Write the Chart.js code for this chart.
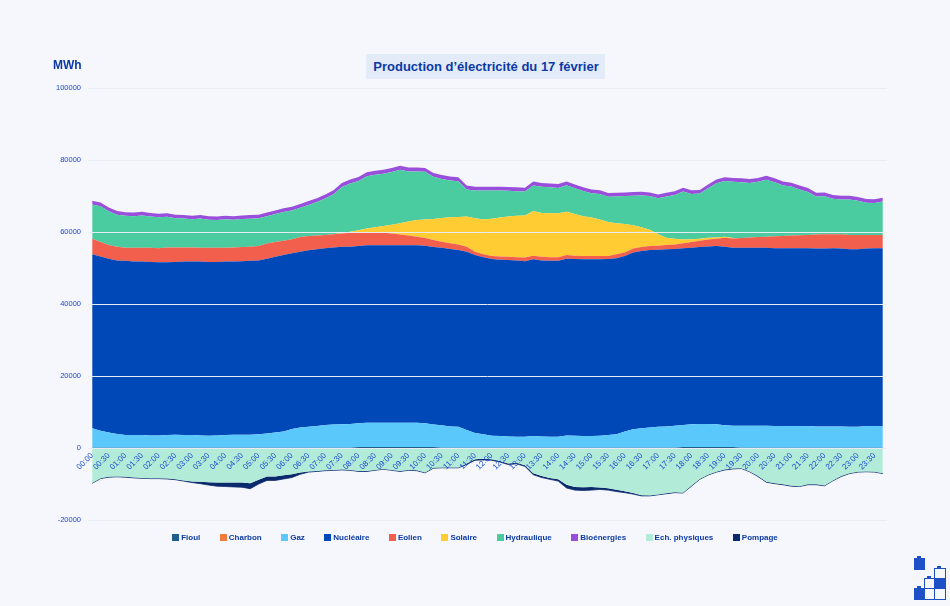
<!DOCTYPE html>
<html lang="fr">
<head>
<meta charset="utf-8">
<title>Production d'électricité du 17 février</title>
<script src="https://cdn.jsdelivr.net/npm/chart.js@4.4.1/dist/chart.umd.min.js"></script>
<style>
  html, body { margin: 0; padding: 0; background: #f5f7fc; }
  #wrap { position: relative; width: 950px; height: 606px; overflow: hidden; font-family: 'Liberation Sans', Arial, sans-serif; }
  #graphique { position: absolute; left: 0; top: 0; }
  .unite { position: absolute; left: 53px; top: 58px; font-size: 12px; font-weight: bold; color: #0b3aa6; }
  .titre { position: absolute; left: 486px; top: 54px; transform: translateX(-50%); background: #e3ebf9; color: #0b3aa6;
           font-size: 13px; font-weight: bold; padding: 5px 7px; white-space: nowrap; }
  .legende { position: absolute; left: 0; top: 533px; width: 950px; display: flex; justify-content: center; gap: 19.5px;
             font-size: 8px; font-weight: bold; color: #0b3aa6; }
  .legende span { display: flex; align-items: center; }
  .legende i { display: inline-block; width: 7px; height: 7px; margin-right: 2px; }
  .pile { position: absolute; width: 10px; height: 10px; border: 1px solid #1f4fc6; background: #f5f7fc; }
  .pile.pleine { background: #1f4fc6; }
  .pile.nez::before { content: ''; position: absolute; left: 2px; top: -3px; width: 4px; height: 2px; background: #1f4fc6; }
</style>
</head>
<body>
<div id="wrap">
  <canvas id="graphique" width="950" height="606"></canvas>
  <div class="unite">MWh</div>
  <div class="titre">Production d’électricité du 17 février</div>
  <div class="legende" id="legende"></div>
  <div class="pile pleine nez" style="left:914px;top:558px;width:9px;height:10px"></div>
  <div class="pile pleine nez" style="left:914px;top:588px"></div>
  <div class="pile nez" style="left:924px;top:578px"></div>
  <div class="pile" style="left:924px;top:588px"></div>
  <div class="pile nez" style="left:934px;top:568px"></div>
  <div class="pile pleine" style="left:934px;top:578px"></div>
  <div class="pile" style="left:934px;top:588px"></div>
</div>
<script>
// Quarts d'heure de la journée
const heures = [
  '00:00','00:15','00:30','00:45','01:00','01:15','01:30','01:45','02:00','02:15','02:30','02:45',
  '03:00','03:15','03:30','03:45','04:00','04:15','04:30','04:45','05:00','05:15','05:30','05:45',
  '06:00','06:15','06:30','06:45','07:00','07:15','07:30','07:45','08:00','08:15','08:30','08:45',
  '09:00','09:15','09:30','09:45','10:00','10:15','10:30','10:45','11:00','11:15','11:30','11:45',
  '12:00','12:15','12:30','12:45','13:00','13:15','13:30','13:45','14:00','14:15','14:30','14:45',
  '15:00','15:15','15:30','15:45','16:00','16:15','16:30','16:45','17:00','17:15','17:30','17:45',
  '18:00','18:15','18:30','18:45','19:00','19:15','19:30','19:45','20:00','20:15','20:30','20:45',
  '21:00','21:15','21:30','21:45','22:00','22:15','22:30','22:45','23:00','23:15','23:30','23:45'
];

// Valeurs en MWh, une par quart d'heure
const fioul = [
  100,100,100,100,100,100,100,100,100,100,100,100,
  100,100,100,100,100,100,100,100,100,100,100,100,
  100,100,100,100,100,100,100,100,300,300,300,300,
  300,300,300,300,300,300,100,100,100,100,100,100,
  100,100,100,100,100,100,100,100,100,100,100,100,
  100,100,100,100,100,100,100,100,100,100,100,300,
  300,300,300,300,300,300,100,100,100,100,100,100,
  100,100,100,100,100,100,100,100,100,100,100,100
];
const charbon = [
  0,0,0,0,0,0,0,0,0,0,0,0, 0,0,0,0,0,0,0,0,0,0,0,0,
  0,0,0,0,0,0,0,0,0,0,0,0, 0,0,0,0,0,0,0,0,0,0,0,0,
  0,0,0,0,0,0,0,0,0,0,0,0, 0,0,0,0,0,0,0,0,0,0,0,0,
  0,0,0,0,0,0,0,0,0,0,0,0, 0,0,0,0,0,0,0,0,0,0,0,0
];
const gaz = [
  5400,4700,4200,3800,3500,3500,3500,3400,3400,3500,3600,3500,
  3500,3400,3300,3400,3500,3600,3600,3600,3700,3900,4200,4500,
  5200,5600,5800,6000,6300,6400,6500,6600,6600,6700,6700,6700,
  6700,6700,6700,6700,6600,6200,6200,5900,5800,4900,4100,3700,
  3300,3200,3100,3000,3000,3200,3100,3000,3000,3400,3300,3200,
  3200,3300,3500,3700,4500,5100,5400,5600,5800,5900,6100,6100,
  6300,6400,6400,6300,6000,5900,6100,6100,6100,6100,6000,6000,
  6000,6000,6000,5900,5900,5900,5900,5800,5800,6000,6000,6000
];
const nucleaire = [
  48300,48400,48300,48200,48400,48200,48200,48200,48100,48000,48000,48200,
  48200,48300,48300,48200,48200,48100,48200,48300,48300,48600,48800,49000,
  48800,48800,49000,49100,49100,49200,49300,49200,49200,49300,49300,49300,
  49300,49300,49300,49300,49300,49300,49300,49300,49100,49500,49400,49200,
  49100,49000,49000,49000,48800,49100,48900,48900,48900,49100,49100,49100,
  49100,49000,48900,48900,48700,49100,49200,49300,49200,49200,49100,49100,
  49000,49100,49300,49500,49600,49400,49400,49400,49400,49400,49400,49400,
  49400,49400,49400,49400,49400,49500,49400,49300,49300,49300,49400,49400
];
const eolien = [
  4300,4000,3800,3800,3600,3800,3800,3900,3900,4100,4000,3900,
  3900,3800,3900,3900,3800,3900,3900,3900,4000,4200,4100,4000,
  3900,4100,4000,3800,3700,3700,3700,3900,3800,3600,3600,3500,
  3300,3000,2700,2400,2100,2000,1700,1600,1500,1400,900,800,
  800,900,900,900,1000,1000,1000,1000,1000,1000,900,900,
  900,900,800,1100,1000,1100,1100,1100,1100,1200,1200,1400,
  1600,1800,1900,2000,2500,2600,2700,2900,3000,3100,3300,3400,
  3500,3600,3700,3900,4000,3900,4000,4000,4000,3800,3700,3700
];
const solaire = [
  0,0,0,0,0,0,0,0,0,0,0,0,
  0,0,0,0,0,0,0,0,0,0,0,0,
  0,0,0,0,0,0,100,300,600,1100,1400,1900,
  2400,3100,3900,4600,5200,5800,6600,7200,7700,8400,9300,9700,
  10400,10800,11200,11500,11700,12400,12200,12200,12200,12000,11600,11100,
  10700,10200,9500,8600,7900,6500,5500,4500,3200,2000,1600,1000,
  800,500,500,400,300,100,0,0,0,0,0,0,
  0,0,0,0,0,0,0,0,0,0,0,0
];
const hydraulique = [
  9550,9960,9370,8880,8890,8800,9000,8700,8610,8510,8110,8020,
  7820,8120,7820,7720,7910,7710,7800,7800,7690,7580,7770,7950,
  7940,8130,8620,9310,10100,11100,12800,13390,13690,14490,14600,14500,
  14700,14900,13910,13510,13220,11720,10820,10230,9930,7530,7740,8040,
  7840,7540,7150,6850,6650,7150,7250,7250,7050,7360,7160,6960,
  6760,7060,6970,7470,7770,8170,8870,9370,9970,11470,12170,13360,
  12560,12560,13750,15050,15440,15640,15540,15140,15330,15830,15030,14030,
  13640,12740,11940,10540,10550,9850,9650,9850,9450,8950,8850,9250
];
const bioenergies = [
  1050,1040,1030,1020,1010,1000,1000,1000,990,990,990,980,
  980,980,980,980,990,990,1000,1000,1010,1020,1030,1050,
  1060,1070,1080,1090,1100,1100,1100,1110,1110,1110,1100,1100,
  1100,1100,1090,1090,1080,1080,1080,1070,1070,1070,1060,1060,
  1060,1060,1050,1050,1050,1050,1050,1050,1050,1040,1040,1040,
  1040,1040,1030,1030,1030,1030,1030,1030,1030,1030,1030,1040,
  1040,1040,1050,1050,1060,1060,1060,1060,1070,1070,1070,1070,
  1060,1060,1060,1060,1050,1050,1050,1050,1050,1050,1050,1050
];
const echanges = [
  -9700,-8400,-8000,-7900,-8000,-8200,-8300,-8400,-8400,-8500,-8700,-9000,
  -9300,-9400,-9500,-9600,-9600,-9600,-9600,-9800,-8800,-7900,-7900,-7600,
  -7300,-6800,-6500,-6400,-6200,-6100,-6000,-6100,-6400,-6400,-6100,-5800,
  -6100,-6400,-6100,-6200,-6800,-5500,-5400,-5400,-5400,-4300,-3100,-3000,
  -3100,-3600,-4300,-4100,-4800,-7000,-7800,-8300,-8700,-10200,-10800,-10900,
  -10800,-11000,-11200,-11600,-12000,-12500,-13100,-13200,-12900,-12600,-12300,-12400,
  -10500,-8600,-7400,-6600,-6000,-5700,-5600,-6500,-7800,-9400,-9800,-10100,
  -10500,-10600,-10100,-10100,-10400,-9000,-7800,-7000,-6600,-6500,-6600,-7000
];
const pompage = [
  -100,-100,-100,-100,-100,-100,-100,-100,-100,-100,-100,-200,
  -300,-500,-800,-1000,-1100,-1200,-1300,-1500,-1200,-1100,-1100,-1000,
  -900,-500,-200,-100,-100,-100,-100,-100,-100,-100,-100,-100,
  -100,-100,-100,-100,-100,-100,-100,-100,-100,-300,-300,-300,
  -300,-300,-300,-300,-300,-400,-400,-400,-500,-900,-900,-900,
  -900,-500,-500,-500,-400,-300,-200,-100,-100,-100,-100,-100,
  -100,-100,-100,-100,-100,-100,-100,-100,-100,-100,-100,-100,
  -100,-100,-100,-100,-100,-100,-100,-100,-100,-100,-100,-100
];

const filieres = ['Fioul', 'Charbon', 'Gaz', 'Nucléaire', 'Eolien', 'Solaire', 'Hydraulique', 'Bioénergies', 'Ech. physiques', 'Pompage'];
const valeurs = [fioul, charbon, gaz, nucleaire, eolien, solaire, hydraulique, bioenergies, echanges, pompage];
const couleurs = ['#1f5f8b', '#f27a3c', '#5ac8fa', '#0047b8', '#f25f4c', '#ffcc33', '#4acca0', '#9a4fdc', '#b3ebd9', '#0b2a6b'];
const graduations = [-20000, 0, 20000, 40000, 60000, 80000, 100000];

const police = "'Liberation Sans', Arial, sans-serif";

const datasets = filieres.map((nom, i) => ({
  label: nom,
  data: valeurs[i],
  backgroundColor: couleurs[i],
  borderColor: couleurs[i],
  borderWidth: nom === 'Pompage' ? 0.8 : 0,
  pointRadius: 0,
  pointHoverRadius: 0,
  tension: 0,
  // la première série de chaque côté part de zéro, les autres de la précédente
  fill: (nom === 'Fioul' || nom === 'Ech. physiques') ? 'origin' : '-1'
}));

new Chart(document.getElementById('graphique').getContext('2d'), {
  type: 'line',
  data: { labels: heures, datasets: datasets },
  options: {
    responsive: false,
    animation: false,
    layout: { padding: { left: 48, right: 63, top: 88, bottom: 86 } },
    plugins: {
      legend: { display: false },
      tooltip: { enabled: false }
    },
    scales: {
      x: {
        position: { y: 0 },
        offset: true,
        grid: { display: false, drawTicks: false },
        border: { display: false },
        ticks: {
          z: 2,
          autoSkip: false,
          minRotation: 45,
          maxRotation: 45,
          padding: 3,
          color: '#1a4bd0',
          font: { family: police, size: 8 },
          callback: (v, i) => (i % 2 === 0 ? heures[i] : '')
        },
        afterFit: s => { s.height = 0; }
      },
      y: {
        stacked: true,
        min: graduations[0],
        max: graduations[graduations.length - 1],
        grid: { z: 1, color: '#e6ebf4', drawTicks: false },
        border: { display: false },
        ticks: {
          stepSize: 20000,
          padding: 7,
          color: '#1a4bd0',
          font: { family: police, size: 7.5 },
          callback: v => String(v)
        },
        afterFit: s => { s.width = 40; }
      }
    }
  }
});

// Légende en bas
const legende = document.getElementById('legende');
filieres.forEach((nom, i) => {
  const item = document.createElement('span');
  item.innerHTML = '<i style="background:' + couleurs[i] + '"></i>' + nom;
  legende.appendChild(item);
});
</script>
</body>
</html>
